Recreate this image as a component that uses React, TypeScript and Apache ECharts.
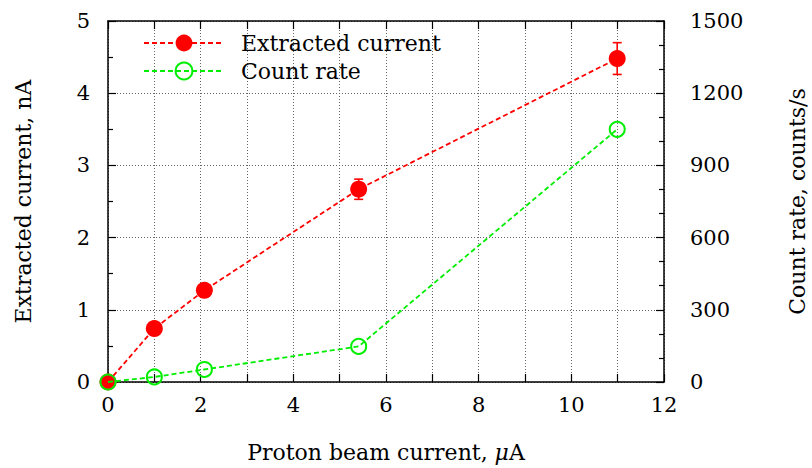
import React, { useEffect, useRef } from "react";
import * as echarts from "echarts";

const beamCurrent = [0, 1.0, 2.08, 5.41, 10.99];
const extractedCurrent = [0, 0.74, 1.27, 2.67, 4.48];
const extractedError = [0, 0, 0, 0.14, 0.22];
const countRate = [0, 21, 52, 148, 1050];

const FONT = "DejaVu Serif";
const FS = 22;
const TFS = 21;

export default function App() {
  const ref = useRef<HTMLDivElement>(null);
  useEffect(() => {
    if (!ref.current) return;
    const chart = echarts.init(ref.current, undefined, { renderer: "svg" });
    const dotted = { show: true, lineStyle: { color: "#666", type: [1, 2] as any, width: 1 } };
    const redData = beamCurrent.map((x, i) => [x, extractedCurrent[i]]);
    const greenData = beamCurrent.map((x, i) => [x, countRate[i]]);
    const errData = beamCurrent.map((x, i) => [x, extractedCurrent[i], extractedError[i]]);
    chart.setOption({
      animation: false,
      backgroundColor: "#fff",
      textStyle: { fontFamily: FONT },
      grid: { left: 108, right: 148, top: 21, bottom: 86, containLabel: false, outerBoundsMode: "none" },
      legend: {
        orient: "vertical",
        left: 143,
        top: 32,
        padding: 0,
        itemWidth: 80,
        itemHeight: 21,
        itemGap: 6,
        data: ["Extracted current", "Count rate"],
        textStyle: { fontFamily: FONT, fontSize: FS, color: "#000", padding: [0, 0, 0, 12] },
      },
      xAxis: [
        {
          type: "value",
          position: "bottom",
          min: 0,
          max: 12,
          interval: 2,
          axisLine: { show: true, onZero: false, lineStyle: { color: "#000", width: 1.5 } },
          axisTick: { show: true, inside: true, length: 8, lineStyle: { color: "#000", width: 1.2 } },
          minorTick: { show: true, splitNumber: 2, length: 8, lineStyle: { color: "#000", width: 1.2 } },
          splitLine: dotted,
          minorSplitLine: dotted,
          axisLabel: { color: "#000", fontFamily: FONT, fontSize: TFS, margin: 12 },
          name: "Proton beam current, {i|μ}A",
          nameLocation: "middle",
          nameGap: 59,
          nameTextStyle: {
            color: "#000",
            fontFamily: FONT,
            fontSize: FS,
            rich: { i: { fontStyle: "italic", fontFamily: FONT, fontSize: FS, color: "#000" } },
          },
        },
        {
          type: "value",
          position: "top",
          min: 0,
          max: 12,
          interval: 2,
          axisLine: { show: true, onZero: false, lineStyle: { color: "#000", width: 1.5 } },
          axisTick: { show: true, inside: true, length: 8, lineStyle: { color: "#000", width: 1.2 } },
          minorTick: { show: true, splitNumber: 2, length: 8, lineStyle: { color: "#000", width: 1.2 } },
          splitLine: { show: false },
          axisLabel: { show: false },
        },
      ],
      yAxis: [
        {
          type: "value",
          position: "left",
          min: 0,
          max: 5,
          interval: 1,
          axisLine: { show: true, onZero: false, lineStyle: { color: "#000", width: 1.5 } },
          axisTick: { show: true, inside: true, length: 8, lineStyle: { color: "#000", width: 1.2 } },
          minorTick: { show: true, splitNumber: 2, length: 5, lineStyle: { color: "#000", width: 1.2 } },
          splitLine: dotted,
          axisLabel: { color: "#000", fontFamily: FONT, fontSize: TFS, margin: 18 },
          name: "Extracted current, nA",
          nameLocation: "middle",
          nameGap: 74,
          nameRotate: 90,
          nameTextStyle: { color: "#000", fontFamily: FONT, fontSize: FS },
        },
        {
          type: "value",
          position: "right",
          min: 0,
          max: 1500,
          interval: 300,
          axisLine: { show: true, onZero: false, lineStyle: { color: "#000", width: 1.5 } },
          axisTick: { show: true, inside: true, length: 8, lineStyle: { color: "#000", width: 1.2 } },
          minorTick: { show: true, splitNumber: 3, length: 5, lineStyle: { color: "#000", width: 1.2 } },
          splitLine: { show: false },
          axisLabel: {
            color: "#000",
            fontFamily: FONT,
            fontSize: TFS,
            margin: 26,
            formatter: (v: number) => String(v),
          },
          name: "Count rate, counts/s",
          nameLocation: "middle",
          nameGap: 122,
          nameRotate: 90,
          nameTextStyle: { color: "#000", fontFamily: FONT, fontSize: FS },
        },
      ],
      series: [
        {
          name: "Extracted current",
          type: "line",
          xAxisIndex: 0,
          yAxisIndex: 0,
          data: redData,
          symbol: "circle",
          symbolSize: 17,
          itemStyle: { color: "#ff0000" },
          lineStyle: { color: "#ff0000", width: 1.8, type: [5, 3] as any },
          z: 3,
        },
        {
          name: "Extracted current error",
          type: "custom",
          xAxisIndex: 0,
          yAxisIndex: 0,
          data: errData,
          z: 4,
          renderItem: (params: any, api: any) => {
            const x = api.value(0);
            const y = api.value(1);
            const e = api.value(2);
            if (!e) return null;
            const top = api.coord([x, y + e]);
            const bot = api.coord([x, y - e]);
            const cap = 4.5;
            const style = { stroke: "#ff0000", lineWidth: 1.6 };
            return {
              type: "group",
              children: [
                { type: "line", shape: { x1: top[0], y1: top[1], x2: bot[0], y2: bot[1] }, style },
                { type: "line", shape: { x1: top[0] - cap, y1: top[1], x2: top[0] + cap, y2: top[1] }, style },
                { type: "line", shape: { x1: bot[0] - cap, y1: bot[1], x2: bot[0] + cap, y2: bot[1] }, style },
              ],
            };
          },
        },
        {
          name: "Count rate",
          type: "line",
          xAxisIndex: 0,
          yAxisIndex: 1,
          data: greenData,
          symbol: "circle",
          symbolSize: 15,
          itemStyle: { color: "rgba(0,0,0,0)", borderColor: "#00ee00", borderWidth: 2 },
          lineStyle: { color: "#00ee00", width: 1.8, type: [5, 3] as any },
          z: 5,
        },
      ],
    });
    return () => chart.dispose();
  }, []);
  return <div ref={ref} style={{ width: 812, height: 468, position: "absolute", left: 0, top: 0 }} />;
}
